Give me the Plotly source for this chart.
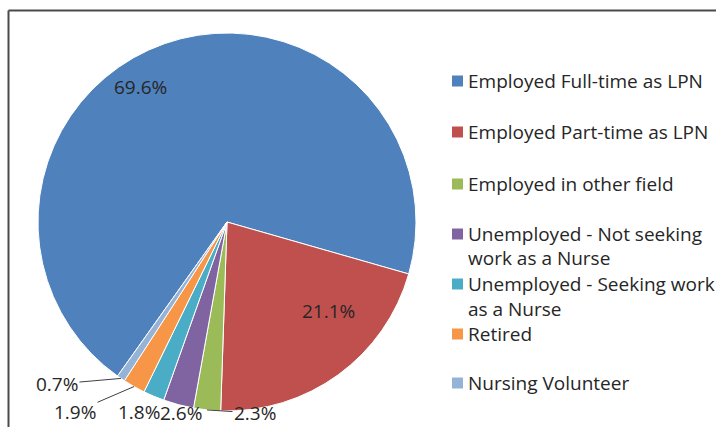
import math
import plotly.graph_objects as go

# ---- data ----
categories = [
    "Employed Full-time as LPN",
    "Employed Part-time as LPN",
    "Employed in other field",
    "Unemployed - Not seeking work as a Nurse",
    "Unemployed - Seeking work as a Nurse",
    "Retired",
    "Nursing Volunteer",
]
legend_lines = [
    ["Employed Full-time as LPN"],
    ["Employed Part-time as LPN"],
    ["Employed in other field"],
    ["Unemployed - Not seeking", "work as a Nurse"],
    ["Unemployed - Seeking work", "as a Nurse"],
    ["Retired"],
    ["Nursing Volunteer"],
]
values = [69.6, 21.1, 2.3, 2.6, 1.8, 1.9, 0.7]
colors = ["#4F81BD", "#C0504D", "#9BBB59", "#8064A2", "#4BACC6", "#F79646", "#95B3D7"]

# ---- layout constants ----
W, H = 716, 427
CX, CY, R = 227, 222, 189
ROTATION = 215.4
FONT = "Open Sans"
FS = 19
TXT = "#262626"

# label placement (pixel position of text centre, arrow or not)
label_pos = [
    (140, 87, False),
    (328, 311, False),
    (255, 413, True),
    (181, 413, False),
    (139, 412, False),
    (75, 412, True),
    (57, 384, True),
]
legend_rows = [[81], [132], [184], [234, 258], [284, 309], [334], [383]]

fig = go.Figure(go.Pie(
    labels=categories,
    values=values,
    sort=False,
    direction="clockwise",
    rotation=ROTATION,
    marker=dict(colors=colors, line=dict(color="white", width=1)),
    textinfo="none",
    hoverinfo="label+percent",
    domain=dict(x=[(CX - R) / W, (CX + R) / W], y=[1 - (CY + R) / H, 1 - (CY - R) / H]),
    showlegend=False,
))

annotations = []
shapes = []
total = sum(values)
cum = 0.0
for v, (tx, ty, arrow) in zip(values, label_pos):
    mid = ROTATION + (cum + v / 2) / total * 360
    cum += v
    ex = CX + R * math.sin(math.radians(mid))
    ey = CY - R * math.cos(math.radians(mid))
    txt = f"{v:.1f}%"
    if arrow:
        annotations.append(dict(
            x=ex / W, y=1 - ey / H, xref="paper", yref="paper",
            ax=tx - ex, ay=ty - ey, text=txt, showarrow=True,
            arrowhead=0, arrowwidth=1, arrowcolor="#404040", standoff=0,
            font=dict(family=FONT, size=FS, color=TXT)))
    else:
        annotations.append(dict(
            x=tx / W, y=1 - ty / H, xref="paper", yref="paper",
            xanchor="center", yanchor="middle",
            text=txt, showarrow=False, font=dict(family=FONT, size=FS, color=TXT)))

# legend
for lines, rows, col in zip(legend_lines, legend_rows, colors):
    y0 = rows[0]
    shapes.append(dict(type="rect", xref="paper", yref="paper",
                       x0=452 / W, x1=463 / W, y0=1 - (y0 + 5.5) / H, y1=1 - (y0 - 5.5) / H,
                       fillcolor=col, line=dict(width=0)))
    for line, ry in zip(lines, rows):
        annotations.append(dict(
            x=466 / W, y=1 - ry / H, xref="paper", yref="paper",
            xanchor="left", yanchor="middle", text=line, showarrow=False,
            font=dict(family=FONT, size=FS, color=TXT)))

# frame
shapes.append(dict(type="line", xref="paper", yref="paper",
                   x0=8.5 / W, x1=1, y0=1 - 10.5 / H, y1=1 - 10.5 / H,
                   line=dict(color="#4a4a4a", width=2)))
shapes.append(dict(type="line", xref="paper", yref="paper",
                   x0=8.5 / W, x1=8.5 / W, y0=0, y1=1 - 10.5 / H,
                   line=dict(color="#4a4a4a", width=2)))

fig.update_layout(
    width=W, height=H,
    margin=dict(l=0, r=0, t=0, b=0),
    paper_bgcolor="white", plot_bgcolor="white",
    annotations=annotations, shapes=shapes,
)
fig.write_html("out.html")
